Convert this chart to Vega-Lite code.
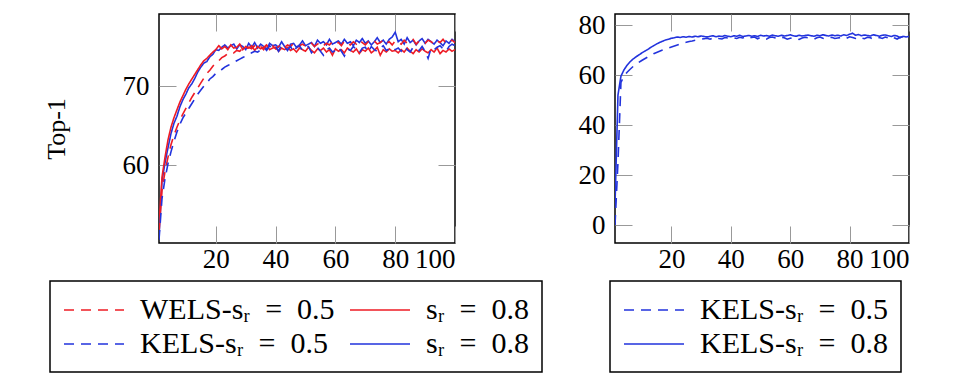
{
  "$schema": "https://vega.github.io/schema/vega-lite/v6.json",
  "background": "white",
  "padding": {"left": 42, "top": 10, "right": 5, "bottom": 5},
  "spacing": 160,
  "bounds": "flush",
  "resolve": {"scale": {"color": "independent", "strokeDash": "independent"}, "legend": {"color": "independent", "strokeDash": "independent"}},
  "config": {
    "font": "Liberation Serif",
    "view": {"stroke": "black", "strokeWidth": 1.5},
    "axis": {"domain": false, "grid": false, "tickSize": -17, "tickColor": "#999999", "tickWidth": 1, "labelFont": "Liberation Serif", "labelFontSize": 27, "labelColor": "black", "labelPadding": 27, "titleFont": "Liberation Serif", "titleFontSize": 26, "titleFontWeight": "normal", "titleColor": "black"},
    "legend": {"labelFont": "Liberation Serif", "labelFontSize": 30, "labelColor": "black", "labelLimit": 0, "strokeColor": "black", "strokeWidth": 1.5, "padding": 13, "symbolType": "M-1,0H3", "symbolSize": 900, "symbolStrokeWidth": 1.6, "labelOffset": 45, "rowPadding": 3, "columnPadding": 11}
  },
  "datasets": {
    "left": [
      {"s":"K8","x":1,"y":51.0},{"s":"K8","x":2,"y":58.0},{"s":"K8","x":3,"y":60.3},{"s":"K8","x":4,"y":62.2},{"s":"K8","x":5,"y":64.0},{"s":"K8","x":6,"y":65.3},{"s":"K8","x":7,"y":66.2},{"s":"K8","x":8,"y":67.4},{"s":"K8","x":9,"y":68.3},{"s":"K8","x":10,"y":69.0},
      {"s":"K8","x":11,"y":69.8},{"s":"K8","x":12,"y":70.3},{"s":"K8","x":13,"y":71.0},{"s":"K8","x":14,"y":71.8},{"s":"K8","x":15,"y":72.4},{"s":"K8","x":16,"y":72.9},{"s":"K8","x":17,"y":73.1},{"s":"K8","x":18,"y":73.7},{"s":"K8","x":19,"y":74.0},{"s":"K8","x":20,"y":74.6},
      {"s":"K8","x":21,"y":74.5},{"s":"K8","x":22,"y":74.9},{"s":"K8","x":23,"y":75.2},{"s":"K8","x":24,"y":74.8},{"s":"K8","x":25,"y":75.1},{"s":"K8","x":26,"y":75.3},{"s":"K8","x":27,"y":74.7},{"s":"K8","x":28,"y":75.2},{"s":"K8","x":29,"y":75.0},{"s":"K8","x":30,"y":74.6},
      {"s":"K8","x":31,"y":75.4},{"s":"K8","x":32,"y":74.9},{"s":"K8","x":33,"y":75.5},{"s":"K8","x":34,"y":74.8},{"s":"K8","x":35,"y":75.3},{"s":"K8","x":36,"y":75.0},{"s":"K8","x":37,"y":74.7},{"s":"K8","x":38,"y":75.4},{"s":"K8","x":39,"y":75.1},{"s":"K8","x":40,"y":75.2},
      {"s":"K8","x":41,"y":74.9},{"s":"K8","x":42,"y":75.6},{"s":"K8","x":43,"y":75.0},{"s":"K8","x":44,"y":74.5},{"s":"K8","x":45,"y":75.3},{"s":"K8","x":46,"y":75.4},{"s":"K8","x":47,"y":74.9},{"s":"K8","x":48,"y":75.2},{"s":"K8","x":49,"y":75.7},{"s":"K8","x":50,"y":75.1},
      {"s":"K8","x":51,"y":75.3},{"s":"K8","x":52,"y":75.5},{"s":"K8","x":53,"y":75.0},{"s":"K8","x":54,"y":75.8},{"s":"K8","x":55,"y":75.4},{"s":"K8","x":56,"y":75.6},{"s":"K8","x":57,"y":75.2},{"s":"K8","x":58,"y":75.9},{"s":"K8","x":59,"y":75.3},{"s":"K8","x":60,"y":75.5},
      {"s":"K8","x":61,"y":75.7},{"s":"K8","x":62,"y":75.3},{"s":"K8","x":63,"y":75.9},{"s":"K8","x":64,"y":75.4},{"s":"K8","x":65,"y":75.6},{"s":"K8","x":66,"y":75.1},{"s":"K8","x":67,"y":75.8},{"s":"K8","x":68,"y":75.5},{"s":"K8","x":69,"y":76.0},{"s":"K8","x":70,"y":75.4},
      {"s":"K8","x":71,"y":75.7},{"s":"K8","x":72,"y":75.2},{"s":"K8","x":73,"y":75.6},{"s":"K8","x":74,"y":76.1},{"s":"K8","x":75,"y":75.5},{"s":"K8","x":76,"y":75.8},{"s":"K8","x":77,"y":75.3},{"s":"K8","x":78,"y":75.9},{"s":"K8","x":79,"y":76.2},{"s":"K8","x":80,"y":76.8},
      {"s":"K8","x":81,"y":75.6},{"s":"K8","x":82,"y":75.9},{"s":"K8","x":83,"y":75.3},{"s":"K8","x":84,"y":76.1},{"s":"K8","x":85,"y":75.5},{"s":"K8","x":86,"y":75.8},{"s":"K8","x":87,"y":75.2},{"s":"K8","x":88,"y":75.7},{"s":"K8","x":89,"y":76.0},{"s":"K8","x":90,"y":75.4},
      {"s":"K8","x":91,"y":75.9},{"s":"K8","x":92,"y":75.6},{"s":"K8","x":93,"y":75.3},{"s":"K8","x":94,"y":75.8},{"s":"K8","x":95,"y":75.5},{"s":"K8","x":96,"y":75.1},{"s":"K8","x":97,"y":75.7},{"s":"K8","x":98,"y":75.4},{"s":"K8","x":99,"y":75.9},{"s":"K8","x":100,"y":75.6},

      {"s":"W8","x":1,"y":52.5},{"s":"W8","x":2,"y":58.5},{"s":"W8","x":3,"y":61.0},{"s":"W8","x":4,"y":63.2},{"s":"W8","x":5,"y":64.8},{"s":"W8","x":6,"y":66.0},{"s":"W8","x":7,"y":67.0},{"s":"W8","x":8,"y":68.0},{"s":"W8","x":9,"y":68.8},{"s":"W8","x":10,"y":69.6},
      {"s":"W8","x":11,"y":70.3},{"s":"W8","x":12,"y":70.9},{"s":"W8","x":13,"y":71.5},{"s":"W8","x":14,"y":72.1},{"s":"W8","x":15,"y":72.7},{"s":"W8","x":16,"y":73.2},{"s":"W8","x":17,"y":73.5},{"s":"W8","x":18,"y":73.9},{"s":"W8","x":19,"y":74.3},{"s":"W8","x":20,"y":74.6},
      {"s":"W8","x":21,"y":75.1},{"s":"W8","x":22,"y":74.7},{"s":"W8","x":23,"y":75.0},{"s":"W8","x":24,"y":74.6},{"s":"W8","x":25,"y":75.2},{"s":"W8","x":26,"y":74.8},{"s":"W8","x":27,"y":74.9},{"s":"W8","x":28,"y":75.3},{"s":"W8","x":29,"y":74.6},{"s":"W8","x":30,"y":75.0},
      {"s":"W8","x":31,"y":74.8},{"s":"W8","x":32,"y":75.1},{"s":"W8","x":33,"y":74.5},{"s":"W8","x":34,"y":75.0},{"s":"W8","x":35,"y":74.7},{"s":"W8","x":36,"y":74.9},{"s":"W8","x":37,"y":75.2},{"s":"W8","x":38,"y":74.6},{"s":"W8","x":39,"y":74.8},{"s":"W8","x":40,"y":74.9},
      {"s":"W8","x":41,"y":74.4},{"s":"W8","x":42,"y":74.8},{"s":"W8","x":43,"y":74.6},{"s":"W8","x":44,"y":74.9},{"s":"W8","x":45,"y":74.5},{"s":"W8","x":46,"y":74.7},{"s":"W8","x":47,"y":74.3},{"s":"W8","x":48,"y":74.8},{"s":"W8","x":49,"y":74.6},{"s":"W8","x":50,"y":74.4},
      {"s":"W8","x":51,"y":74.9},{"s":"W8","x":52,"y":74.5},{"s":"W8","x":53,"y":74.2},{"s":"W8","x":54,"y":74.7},{"s":"W8","x":55,"y":74.5},{"s":"W8","x":56,"y":74.8},{"s":"W8","x":57,"y":74.3},{"s":"W8","x":58,"y":74.6},{"s":"W8","x":59,"y":73.9},{"s":"W8","x":60,"y":74.7},
      {"s":"W8","x":61,"y":74.4},{"s":"W8","x":62,"y":74.6},{"s":"W8","x":63,"y":74.2},{"s":"W8","x":64,"y":74.8},{"s":"W8","x":65,"y":74.5},{"s":"W8","x":66,"y":74.3},{"s":"W8","x":67,"y":74.7},{"s":"W8","x":68,"y":74.1},{"s":"W8","x":69,"y":74.6},{"s":"W8","x":70,"y":74.4},
      {"s":"W8","x":71,"y":74.8},{"s":"W8","x":72,"y":74.2},{"s":"W8","x":73,"y":74.5},{"s":"W8","x":74,"y":74.9},{"s":"W8","x":75,"y":73.9},{"s":"W8","x":76,"y":74.6},{"s":"W8","x":77,"y":74.3},{"s":"W8","x":78,"y":74.7},{"s":"W8","x":79,"y":74.4},{"s":"W8","x":80,"y":74.5},
      {"s":"W8","x":81,"y":74.2},{"s":"W8","x":82,"y":74.6},{"s":"W8","x":83,"y":74.3},{"s":"W8","x":84,"y":74.8},{"s":"W8","x":85,"y":74.4},{"s":"W8","x":86,"y":74.1},{"s":"W8","x":87,"y":74.6},{"s":"W8","x":88,"y":74.3},{"s":"W8","x":89,"y":74.7},{"s":"W8","x":90,"y":74.4},
      {"s":"W8","x":91,"y":74.2},{"s":"W8","x":92,"y":74.6},{"s":"W8","x":93,"y":74.3},{"s":"W8","x":94,"y":74.8},{"s":"W8","x":95,"y":74.1},{"s":"W8","x":96,"y":74.5},{"s":"W8","x":97,"y":74.3},{"s":"W8","x":98,"y":74.7},{"s":"W8","x":99,"y":74.4},{"s":"W8","x":100,"y":74.6},

      {"s":"W5","x":1,"y":51.5},{"s":"W5","x":2,"y":56.8},{"s":"W5","x":3,"y":59.2},{"s":"W5","x":4,"y":61.0},{"s":"W5","x":5,"y":62.6},{"s":"W5","x":6,"y":63.8},{"s":"W5","x":7,"y":64.8},{"s":"W5","x":8,"y":65.7},{"s":"W5","x":9,"y":66.5},{"s":"W5","x":10,"y":67.2},
      {"s":"W5","x":11,"y":67.9},{"s":"W5","x":12,"y":68.6},{"s":"W5","x":13,"y":69.2},{"s":"W5","x":14,"y":69.8},{"s":"W5","x":15,"y":70.4},{"s":"W5","x":16,"y":71.0},{"s":"W5","x":17,"y":71.6},{"s":"W5","x":18,"y":72.0},{"s":"W5","x":19,"y":72.5},{"s":"W5","x":20,"y":72.9},
      {"s":"W5","x":21,"y":73.2},{"s":"W5","x":22,"y":73.6},{"s":"W5","x":23,"y":73.8},{"s":"W5","x":24,"y":74.1},{"s":"W5","x":25,"y":74.3},{"s":"W5","x":26,"y":74.2},{"s":"W5","x":27,"y":74.5},{"s":"W5","x":28,"y":74.4},{"s":"W5","x":29,"y":74.8},{"s":"W5","x":30,"y":74.6},
      {"s":"W5","x":31,"y":74.9},{"s":"W5","x":32,"y":74.7},{"s":"W5","x":33,"y":75.1},{"s":"W5","x":34,"y":74.8},{"s":"W5","x":35,"y":75.0},{"s":"W5","x":36,"y":74.6},{"s":"W5","x":37,"y":75.2},{"s":"W5","x":38,"y":74.9},{"s":"W5","x":39,"y":75.1},{"s":"W5","x":40,"y":74.7},
      {"s":"W5","x":41,"y":75.0},{"s":"W5","x":42,"y":75.3},{"s":"W5","x":43,"y":74.9},{"s":"W5","x":44,"y":75.2},{"s":"W5","x":45,"y":75.0},{"s":"W5","x":46,"y":75.4},{"s":"W5","x":47,"y":74.8},{"s":"W5","x":48,"y":75.1},{"s":"W5","x":49,"y":75.3},{"s":"W5","x":50,"y":75.0},
      {"s":"W5","x":51,"y":75.2},{"s":"W5","x":52,"y":75.4},{"s":"W5","x":53,"y":75.0},{"s":"W5","x":54,"y":75.3},{"s":"W5","x":55,"y":75.5},{"s":"W5","x":56,"y":75.1},{"s":"W5","x":57,"y":75.4},{"s":"W5","x":58,"y":75.2},{"s":"W5","x":59,"y":75.6},{"s":"W5","x":60,"y":75.3},
      {"s":"W5","x":61,"y":75.5},{"s":"W5","x":62,"y":75.1},{"s":"W5","x":63,"y":75.7},{"s":"W5","x":64,"y":75.4},{"s":"W5","x":65,"y":75.2},{"s":"W5","x":66,"y":75.6},{"s":"W5","x":67,"y":75.3},{"s":"W5","x":68,"y":75.8},{"s":"W5","x":69,"y":75.5},{"s":"W5","x":70,"y":75.2},
      {"s":"W5","x":71,"y":75.6},{"s":"W5","x":72,"y":75.4},{"s":"W5","x":73,"y":75.7},{"s":"W5","x":74,"y":75.3},{"s":"W5","x":75,"y":75.5},{"s":"W5","x":76,"y":75.8},{"s":"W5","x":77,"y":75.4},{"s":"W5","x":78,"y":75.6},{"s":"W5","x":79,"y":75.2},{"s":"W5","x":80,"y":75.7},
      {"s":"W5","x":81,"y":75.5},{"s":"W5","x":82,"y":75.3},{"s":"W5","x":83,"y":75.8},{"s":"W5","x":84,"y":75.4},{"s":"W5","x":85,"y":75.6},{"s":"W5","x":86,"y":75.9},{"s":"W5","x":87,"y":75.3},{"s":"W5","x":88,"y":75.7},{"s":"W5","x":89,"y":75.5},{"s":"W5","x":90,"y":75.4},
      {"s":"W5","x":91,"y":75.8},{"s":"W5","x":92,"y":75.6},{"s":"W5","x":93,"y":75.3},{"s":"W5","x":94,"y":75.7},{"s":"W5","x":95,"y":75.5},{"s":"W5","x":96,"y":75.9},{"s":"W5","x":97,"y":75.4},{"s":"W5","x":98,"y":75.6},{"s":"W5","x":99,"y":75.8},{"s":"W5","x":100,"y":75.5},

      {"s":"K5","x":1,"y":50.6},{"s":"K5","x":2,"y":55.8},{"s":"K5","x":3,"y":58.3},{"s":"K5","x":4,"y":60.2},{"s":"K5","x":5,"y":61.7},{"s":"K5","x":6,"y":63.0},{"s":"K5","x":7,"y":64.2},{"s":"K5","x":8,"y":65.2},{"s":"K5","x":9,"y":66.0},{"s":"K5","x":10,"y":66.6},
      {"s":"K5","x":11,"y":67.2},{"s":"K5","x":12,"y":67.8},{"s":"K5","x":13,"y":68.4},{"s":"K5","x":14,"y":69.0},{"s":"K5","x":15,"y":69.5},{"s":"K5","x":16,"y":70.0},{"s":"K5","x":17,"y":70.4},{"s":"K5","x":18,"y":70.9},{"s":"K5","x":19,"y":71.2},{"s":"K5","x":20,"y":71.6},
      {"s":"K5","x":21,"y":71.9},{"s":"K5","x":22,"y":72.1},{"s":"K5","x":23,"y":72.4},{"s":"K5","x":24,"y":72.6},{"s":"K5","x":25,"y":72.8},{"s":"K5","x":26,"y":73.0},{"s":"K5","x":27,"y":73.2},{"s":"K5","x":28,"y":73.4},{"s":"K5","x":29,"y":73.6},{"s":"K5","x":30,"y":73.8},
      {"s":"K5","x":31,"y":74.0},{"s":"K5","x":32,"y":74.2},{"s":"K5","x":33,"y":74.4},{"s":"K5","x":34,"y":74.3},{"s":"K5","x":35,"y":74.6},{"s":"K5","x":36,"y":74.9},{"s":"K5","x":37,"y":74.5},{"s":"K5","x":38,"y":75.1},{"s":"K5","x":39,"y":74.7},{"s":"K5","x":40,"y":75.0},
      {"s":"K5","x":41,"y":74.4},{"s":"K5","x":42,"y":75.2},{"s":"K5","x":43,"y":74.8},{"s":"K5","x":44,"y":74.6},{"s":"K5","x":45,"y":75.0},{"s":"K5","x":46,"y":74.3},{"s":"K5","x":47,"y":74.9},{"s":"K5","x":48,"y":75.1},{"s":"K5","x":49,"y":74.5},{"s":"K5","x":50,"y":74.8},
      {"s":"K5","x":51,"y":75.0},{"s":"K5","x":52,"y":74.2},{"s":"K5","x":53,"y":74.7},{"s":"K5","x":54,"y":74.9},{"s":"K5","x":55,"y":74.4},{"s":"K5","x":56,"y":73.9},{"s":"K5","x":57,"y":74.6},{"s":"K5","x":58,"y":74.8},{"s":"K5","x":59,"y":74.3},{"s":"K5","x":60,"y":74.5},
      {"s":"K5","x":61,"y":74.9},{"s":"K5","x":62,"y":74.4},{"s":"K5","x":63,"y":73.8},{"s":"K5","x":64,"y":74.7},{"s":"K5","x":65,"y":74.5},{"s":"K5","x":66,"y":75.0},{"s":"K5","x":67,"y":74.6},{"s":"K5","x":68,"y":74.2},{"s":"K5","x":69,"y":74.8},{"s":"K5","x":70,"y":74.9},
      {"s":"K5","x":71,"y":74.3},{"s":"K5","x":72,"y":75.0},{"s":"K5","x":73,"y":74.6},{"s":"K5","x":74,"y":74.4},{"s":"K5","x":75,"y":74.8},{"s":"K5","x":76,"y":75.1},{"s":"K5","x":77,"y":74.5},{"s":"K5","x":78,"y":74.7},{"s":"K5","x":79,"y":74.9},{"s":"K5","x":80,"y":74.6},
      {"s":"K5","x":81,"y":74.8},{"s":"K5","x":82,"y":74.4},{"s":"K5","x":83,"y":75.0},{"s":"K5","x":84,"y":74.6},{"s":"K5","x":85,"y":74.3},{"s":"K5","x":86,"y":74.9},{"s":"K5","x":87,"y":74.7},{"s":"K5","x":88,"y":74.5},{"s":"K5","x":89,"y":75.0},{"s":"K5","x":90,"y":74.4},
      {"s":"K5","x":91,"y":73.5},{"s":"K5","x":92,"y":74.8},{"s":"K5","x":93,"y":74.6},{"s":"K5","x":94,"y":74.9},{"s":"K5","x":95,"y":75.1},{"s":"K5","x":96,"y":74.7},{"s":"K5","x":97,"y":74.4},{"s":"K5","x":98,"y":75.0},{"s":"K5","x":99,"y":75.3},{"s":"K5","x":100,"y":75.1}
    ],
    "right": [
      {"s":"R8","x":1,"y":8.0},{"s":"R8","x":2,"y":52.0},{"s":"R8","x":3,"y":59.5},{"s":"R8","x":4,"y":62.0},{"s":"R8","x":5,"y":63.8},{"s":"R8","x":6,"y":65.2},{"s":"R8","x":7,"y":66.3},{"s":"R8","x":8,"y":67.2},{"s":"R8","x":9,"y":68.0},{"s":"R8","x":10,"y":68.8},
      {"s":"R8","x":11,"y":69.5},{"s":"R8","x":12,"y":70.2},{"s":"R8","x":13,"y":71.0},{"s":"R8","x":14,"y":71.7},{"s":"R8","x":15,"y":72.4},{"s":"R8","x":16,"y":73.0},{"s":"R8","x":17,"y":73.5},{"s":"R8","x":18,"y":74.0},{"s":"R8","x":19,"y":74.3},{"s":"R8","x":20,"y":74.7},
      {"s":"R8","x":21,"y":74.9},{"s":"R8","x":22,"y":75.2},{"s":"R8","x":23,"y":75.0},{"s":"R8","x":24,"y":75.3},{"s":"R8","x":25,"y":75.1},{"s":"R8","x":26,"y":75.4},{"s":"R8","x":27,"y":75.2},{"s":"R8","x":28,"y":75.5},{"s":"R8","x":29,"y":75.3},{"s":"R8","x":30,"y":75.6},
      {"s":"R8","x":31,"y":75.4},{"s":"R8","x":32,"y":75.2},{"s":"R8","x":33,"y":75.5},{"s":"R8","x":34,"y":75.7},{"s":"R8","x":35,"y":75.3},{"s":"R8","x":36,"y":75.6},{"s":"R8","x":37,"y":75.4},{"s":"R8","x":38,"y":75.8},{"s":"R8","x":39,"y":75.5},{"s":"R8","x":40,"y":75.3},
      {"s":"R8","x":41,"y":75.7},{"s":"R8","x":42,"y":75.5},{"s":"R8","x":43,"y":75.9},{"s":"R8","x":44,"y":75.4},{"s":"R8","x":45,"y":75.6},{"s":"R8","x":46,"y":75.8},{"s":"R8","x":47,"y":75.5},{"s":"R8","x":48,"y":75.7},{"s":"R8","x":49,"y":75.4},{"s":"R8","x":50,"y":75.9},
      {"s":"R8","x":51,"y":75.6},{"s":"R8","x":52,"y":75.8},{"s":"R8","x":53,"y":75.5},{"s":"R8","x":54,"y":76.0},{"s":"R8","x":55,"y":75.7},{"s":"R8","x":56,"y":75.5},{"s":"R8","x":57,"y":75.9},{"s":"R8","x":58,"y":75.6},{"s":"R8","x":59,"y":75.8},{"s":"R8","x":60,"y":76.1},
      {"s":"R8","x":61,"y":75.7},{"s":"R8","x":62,"y":75.5},{"s":"R8","x":63,"y":75.9},{"s":"R8","x":64,"y":75.6},{"s":"R8","x":65,"y":75.8},{"s":"R8","x":66,"y":76.0},{"s":"R8","x":67,"y":75.7},{"s":"R8","x":68,"y":75.5},{"s":"R8","x":69,"y":75.9},{"s":"R8","x":70,"y":75.7},
      {"s":"R8","x":71,"y":76.1},{"s":"R8","x":72,"y":75.8},{"s":"R8","x":73,"y":75.6},{"s":"R8","x":74,"y":76.0},{"s":"R8","x":75,"y":75.7},{"s":"R8","x":76,"y":75.9},{"s":"R8","x":77,"y":75.6},{"s":"R8","x":78,"y":76.1},{"s":"R8","x":79,"y":75.8},{"s":"R8","x":80,"y":76.3},
      {"s":"R8","x":81,"y":76.7},{"s":"R8","x":82,"y":75.9},{"s":"R8","x":83,"y":76.2},{"s":"R8","x":84,"y":75.7},{"s":"R8","x":85,"y":76.0},{"s":"R8","x":86,"y":75.8},{"s":"R8","x":87,"y":75.6},{"s":"R8","x":88,"y":76.1},{"s":"R8","x":89,"y":75.8},{"s":"R8","x":90,"y":75.5},
      {"s":"R8","x":91,"y":75.9},{"s":"R8","x":92,"y":76.0},{"s":"R8","x":93,"y":75.7},{"s":"R8","x":94,"y":75.4},{"s":"R8","x":95,"y":75.8},{"s":"R8","x":96,"y":75.6},{"s":"R8","x":97,"y":74.9},{"s":"R8","x":98,"y":75.5},{"s":"R8","x":99,"y":75.2},{"s":"R8","x":100,"y":75.4},

      {"s":"R5","x":1,"y":0.0},{"s":"R5","x":2,"y":25.0},{"s":"R5","x":3,"y":57.0},{"s":"R5","x":4,"y":59.5},{"s":"R5","x":5,"y":61.0},{"s":"R5","x":6,"y":62.2},{"s":"R5","x":7,"y":63.3},{"s":"R5","x":8,"y":64.3},{"s":"R5","x":9,"y":65.0},{"s":"R5","x":10,"y":65.8},
      {"s":"R5","x":11,"y":66.5},{"s":"R5","x":12,"y":67.2},{"s":"R5","x":13,"y":67.8},{"s":"R5","x":14,"y":68.5},{"s":"R5","x":15,"y":69.0},{"s":"R5","x":16,"y":69.5},{"s":"R5","x":17,"y":70.0},{"s":"R5","x":18,"y":70.4},{"s":"R5","x":19,"y":70.8},{"s":"R5","x":20,"y":71.2},
      {"s":"R5","x":21,"y":71.6},{"s":"R5","x":22,"y":72.0},{"s":"R5","x":23,"y":72.4},{"s":"R5","x":24,"y":72.8},{"s":"R5","x":25,"y":73.1},{"s":"R5","x":26,"y":73.4},{"s":"R5","x":27,"y":73.6},{"s":"R5","x":28,"y":73.9},{"s":"R5","x":29,"y":74.1},{"s":"R5","x":30,"y":74.3},
      {"s":"R5","x":31,"y":74.5},{"s":"R5","x":32,"y":74.7},{"s":"R5","x":33,"y":74.3},{"s":"R5","x":34,"y":74.9},{"s":"R5","x":35,"y":75.1},{"s":"R5","x":36,"y":74.6},{"s":"R5","x":37,"y":74.4},{"s":"R5","x":38,"y":75.0},{"s":"R5","x":39,"y":74.8},{"s":"R5","x":40,"y":75.2},
      {"s":"R5","x":41,"y":74.9},{"s":"R5","x":42,"y":74.6},{"s":"R5","x":43,"y":75.1},{"s":"R5","x":44,"y":74.8},{"s":"R5","x":45,"y":75.3},{"s":"R5","x":46,"y":74.7},{"s":"R5","x":47,"y":75.0},{"s":"R5","x":48,"y":75.2},{"s":"R5","x":49,"y":74.5},{"s":"R5","x":50,"y":75.1},
      {"s":"R5","x":51,"y":74.9},{"s":"R5","x":52,"y":74.4},{"s":"R5","x":53,"y":75.0},{"s":"R5","x":54,"y":75.2},{"s":"R5","x":55,"y":74.8},{"s":"R5","x":56,"y":74.5},{"s":"R5","x":57,"y":75.1},{"s":"R5","x":58,"y":74.9},{"s":"R5","x":59,"y":74.3},{"s":"R5","x":60,"y":74.7},
      {"s":"R5","x":61,"y":75.0},{"s":"R5","x":62,"y":74.6},{"s":"R5","x":63,"y":74.2},{"s":"R5","x":64,"y":74.8},{"s":"R5","x":65,"y":75.1},{"s":"R5","x":66,"y":74.9},{"s":"R5","x":67,"y":74.5},{"s":"R5","x":68,"y":74.3},{"s":"R5","x":69,"y":74.9},{"s":"R5","x":70,"y":75.2},
      {"s":"R5","x":71,"y":74.7},{"s":"R5","x":72,"y":74.4},{"s":"R5","x":73,"y":74.9},{"s":"R5","x":74,"y":75.1},{"s":"R5","x":75,"y":74.6},{"s":"R5","x":76,"y":74.8},{"s":"R5","x":77,"y":75.0},{"s":"R5","x":78,"y":74.4},{"s":"R5","x":79,"y":74.7},{"s":"R5","x":80,"y":75.3},
      {"s":"R5","x":81,"y":75.0},{"s":"R5","x":82,"y":74.6},{"s":"R5","x":83,"y":75.2},{"s":"R5","x":84,"y":74.8},{"s":"R5","x":85,"y":74.5},{"s":"R5","x":86,"y":75.1},{"s":"R5","x":87,"y":74.9},{"s":"R5","x":88,"y":74.3},{"s":"R5","x":89,"y":74.8},{"s":"R5","x":90,"y":75.0},
      {"s":"R5","x":91,"y":74.6},{"s":"R5","x":92,"y":75.2},{"s":"R5","x":93,"y":74.8},{"s":"R5","x":94,"y":75.5},{"s":"R5","x":95,"y":74.9},{"s":"R5","x":96,"y":74.4},{"s":"R5","x":97,"y":75.1},{"s":"R5","x":98,"y":75.3},{"s":"R5","x":99,"y":74.7},{"s":"R5","x":100,"y":75.2}
    ]
  },
  "hconcat": [
    {
      "width": 296,
      "height": 229,
      "data": {"name": "left"},
      "resolve": {"axis": {"x": "independent", "y": "independent"}},
      "layer": [
        {
          "mark": {"type": "line", "strokeWidth": 1.6, "clip": true},
          "encoding": {
            "x": {"field": "x", "type": "quantitative", "scale": {"domain": [1, 100], "nice": false, "zero": false}, "axis": {"values": [20, 40, 60, 80, 100], "title": null, "labelPadding": 20}},
            "y": {"field": "y", "type": "quantitative", "scale": {"domain": [50.2, 79.1], "nice": false, "zero": false}, "axis": {"values": [60, 70], "title": "Top-1", "titlePadding": 53}},
            "color": {"field": "s", "type": "nominal", "scale": {"domain": ["W5", "K5", "W8", "K8"], "range": ["#ee1c25", "#2233dd", "#ee1c25", "#2233dd"]},
              "legend": {"title": null, "orient": "none", "legendX": -109, "legendY": 267, "columns": 2, "labelExpr": "datum.value == 'W5' ? 'WELS-s\u1d63\u2002=\u20020.5' : datum.value == 'K5' ? 'KELS-s\u1d63\u2002=\u20020.5' : 's\u1d63\u2002=\u20020.8'"}},
            "strokeDash": {"field": "s", "type": "nominal", "scale": {"domain": ["W5", "K5", "W8", "K8"], "range": [[10, 7], [10, 7], [1, 0], [1, 0]]},
              "legend": {"title": null, "orient": "none", "legendX": -109, "legendY": 267, "columns": 2, "labelExpr": "datum.value == 'W5' ? 'WELS-s\u1d63\u2002=\u20020.5' : datum.value == 'K5' ? 'KELS-s\u1d63\u2002=\u20020.5' : 's\u1d63\u2002=\u20020.8'"}}
          }
        },
        {
          "mark": {"type": "line", "strokeOpacity": 0},
          "encoding": {
            "x": {"field": "x", "type": "quantitative", "axis": {"orient": "top", "labels": false, "values": [20, 40, 60, 80, 100], "title": null}},
            "y": {"field": "y", "type": "quantitative", "axis": {"orient": "right", "labels": false, "values": [60, 70], "title": null}}
          }
        }
      ]
    },
    {
      "width": 294,
      "height": 229,
      "data": {"name": "right"},
      "resolve": {"axis": {"x": "independent", "y": "independent"}},
      "layer": [
        {
          "mark": {"type": "line", "strokeWidth": 1.6, "clip": true},
          "encoding": {
            "x": {"field": "x", "type": "quantitative", "scale": {"domain": [1, 100], "nice": false, "zero": false}, "axis": {"values": [20, 40, 60, 80, 100], "title": null, "labelPadding": 20}},
            "y": {"field": "y", "type": "quantitative", "scale": {"domain": [-7.2, 84.4], "nice": false, "zero": false}, "axis": {"values": [0, 20, 40, 60, 80], "title": null}},
            "color": {"field": "s", "type": "nominal", "scale": {"domain": ["R5", "R8"], "range": ["#2233dd", "#2233dd"]},
              "legend": {"title": null, "orient": "none", "legendX": -5, "legendY": 267, "columns": 1, "labelExpr": "datum.value == 'R5' ? 'KELS-s\u1d63\u2002=\u20020.5' : 'KELS-s\u1d63\u2002=\u20020.8'"}},
            "strokeDash": {"field": "s", "type": "nominal", "scale": {"domain": ["R5", "R8"], "range": [[10, 7], [1, 0]]},
              "legend": {"title": null, "orient": "none", "legendX": -5, "legendY": 267, "columns": 1, "labelExpr": "datum.value == 'R5' ? 'KELS-s\u1d63\u2002=\u20020.5' : 'KELS-s\u1d63\u2002=\u20020.8'"}}
          }
        },
        {
          "mark": {"type": "line", "strokeOpacity": 0},
          "encoding": {
            "x": {"field": "x", "type": "quantitative", "axis": {"orient": "top", "labels": false, "values": [20, 40, 60, 80, 100], "title": null}},
            "y": {"field": "y", "type": "quantitative", "axis": {"orient": "right", "labels": false, "values": [0, 20, 40, 60, 80], "title": null}}
          }
        }
      ]
    }
  ]
}
